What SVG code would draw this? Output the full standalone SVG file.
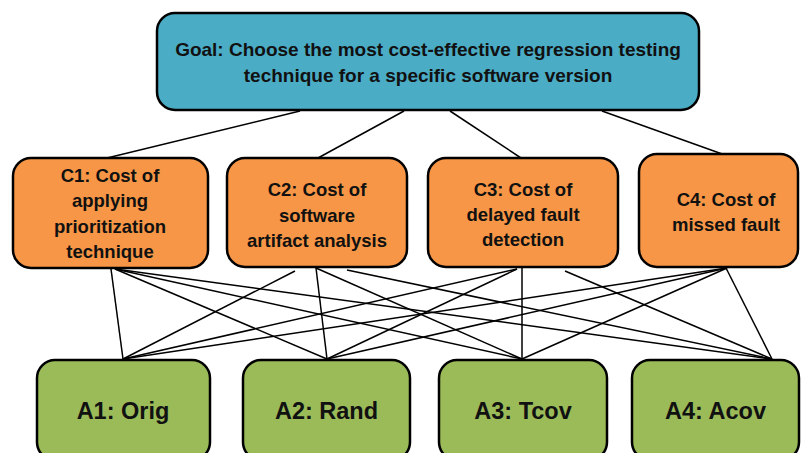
<svg xmlns="http://www.w3.org/2000/svg" width="801" height="453" viewBox="0 0 801 453">
<style>
.box{stroke:#000;stroke-width:2.5}
.goal{fill:#4BACC6}
.crit{fill:#F79646}
.alt{fill:#9BBB59}
text{font-family:"Liberation Sans",Arial,sans-serif;font-weight:bold;fill:#111;text-anchor:middle}
.t19{font-size:19px}
.t18{font-size:18.5px}
.t23{font-size:23.5px}
.conn line{stroke:#000;stroke-width:1.5}
</style>
<rect width="801" height="453" fill="#fff"/>
<g id="connectors" class="conn">
<line x1="300" y1="111" x2="107" y2="158"/>
<line x1="404" y1="111" x2="318" y2="158"/>
<line x1="450" y1="111" x2="521" y2="158"/>
<line x1="602" y1="111" x2="725" y2="155"/>
<line x1="111" y1="269" x2="123" y2="359"/>
<line x1="115" y1="269" x2="327" y2="359"/>
<line x1="115" y1="269" x2="522" y2="359"/>
<line x1="115" y1="269" x2="772" y2="359"/>
<line x1="295" y1="271" x2="123" y2="359"/>
<line x1="316" y1="268" x2="327" y2="359"/>
<line x1="316" y1="268" x2="522" y2="359"/>
<line x1="347" y1="270" x2="772" y2="359"/>
<line x1="517" y1="269" x2="123" y2="359"/>
<line x1="517" y1="269" x2="327" y2="359"/>
<line x1="522" y1="268" x2="522" y2="359"/>
<line x1="565" y1="271" x2="772" y2="359"/>
<line x1="727" y1="268" x2="123" y2="359"/>
<line x1="727" y1="268" x2="327" y2="359"/>
<line x1="727" y1="268" x2="522" y2="359"/>
<line x1="726" y1="268" x2="772" y2="359"/>
</g>
<g id="goal">
<rect class="box goal" x="157" y="13" width="542" height="97" rx="18"/>
<text class="t19" x="428" y="55.5">Goal: Choose the most cost-effective regression testing</text>
<text class="t19" x="428" y="81.5">technique for a specific software version</text>
</g>
<g id="c1">
<rect class="box crit" x="13" y="158" width="195" height="110" rx="18"/>
<text class="t18" x="110" y="181.5">C1: Cost of</text>
<text class="t18" x="110" y="207">applying</text>
<text class="t18" x="110" y="232.5">prioritization</text>
<text class="t18" x="110" y="258">technique</text>
</g>
<g id="c2">
<rect class="box crit" x="227" y="158" width="180" height="109" rx="18"/>
<text class="t18" x="317" y="195.5">C2: Cost of</text>
<text class="t18" x="317" y="221.5">software</text>
<text class="t18" x="317" y="246.5">artifact analysis</text>
</g>
<g id="c3">
<rect class="box crit" x="428" y="158" width="190" height="109" rx="18"/>
<text class="t18" x="523" y="195.5">C3: Cost of</text>
<text class="t18" x="523" y="220.5">delayed fault</text>
<text class="t18" x="523" y="245.5">detection</text>
</g>
<g id="c4">
<rect class="box crit" x="639" y="154" width="159" height="113" rx="18"/>
<text class="t18" x="726" y="205.5">C4: Cost of</text>
<text class="t18" x="726" y="230.5">missed fault</text>
</g>
<g id="a1">
<rect class="box alt" x="37" y="360" width="173" height="100" rx="18"/>
<text class="t23" x="123" y="418.5">A1: Orig</text>
</g>
<g id="a2">
<rect class="box alt" x="243" y="360" width="167" height="100" rx="18"/>
<text class="t23" x="326.5" y="418.5">A2: Rand</text>
</g>
<g id="a3">
<rect class="box alt" x="439" y="360" width="168" height="100" rx="18"/>
<text class="t23" x="523" y="418.5">A3: Tcov</text>
</g>
<g id="a4">
<rect class="box alt" x="632" y="360" width="167" height="100" rx="18"/>
<text class="t23" x="715.5" y="418.5">A4: Acov</text>
</g>
</svg>
